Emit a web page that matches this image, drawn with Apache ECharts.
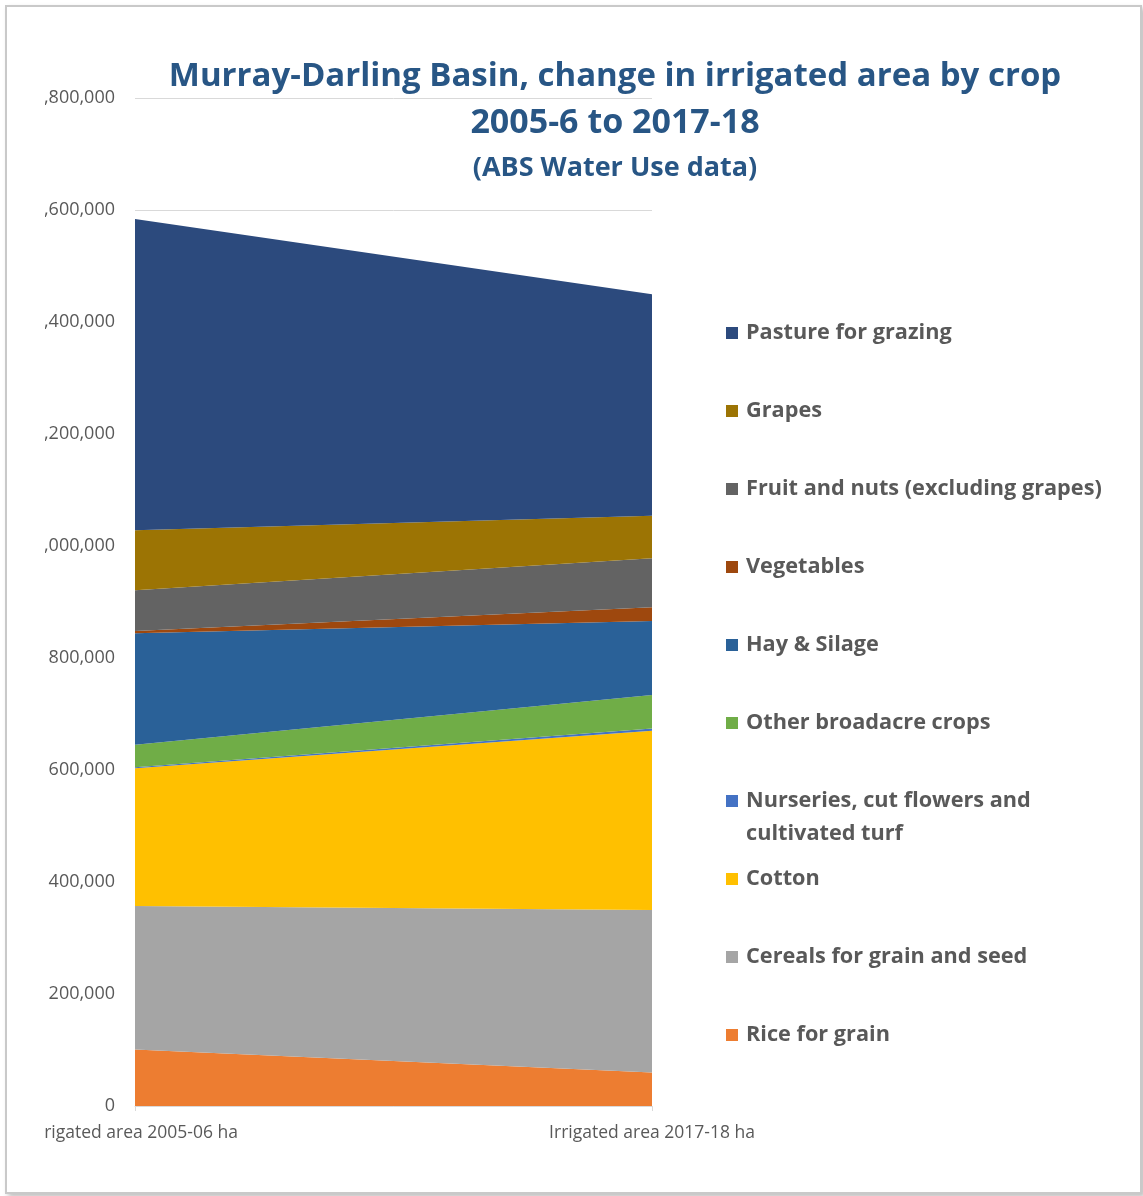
<!DOCTYPE html>
<html>
<head>
<meta charset="utf-8">
<script src="https://cdn.jsdelivr.net/npm/echarts@6/dist/echarts.min.js"></script>
<style>
  html, body { margin: 0; padding: 0; background: #fff; }
  #frame {
    position: absolute; left: 5px; top: 5px; width: 1133px; height: 1185px;
    border: 2px solid #c9c9c9; box-shadow: 3px 3px 5px rgba(0,0,0,0.25);
    background: #fff;
  }
  #chart { position: absolute; left: 45px; top: 0; width: 1093px; height: 1190px; }
</style>
</head>
<body>
<div id="frame"></div>
<div id="chart"></div>
<script>
// categories (x axis)
const categories = ['Irrigated area 2005-06 ha', 'Irrigated area 2017-18 ha'];

// irrigated area (ha)
const riceForGrain = [101000, 60000];
const cerealsForGrain = [256000, 290000];
const cotton = [246000, 320000];
const nurseries = [2000, 4000];
const otherBroadacre = [40000, 60000];
const haySilage = [199000, 132000];
const vegetables = [4000, 24500];
const fruitNuts = [73000, 87500];
const grapes = [107000, 76000];
const pasture = [556000, 395500];

// stacking order, bottom to top
const seriesDefs = [
  { name: 'Rice for grain', data: riceForGrain, color: '#ED7D31' },
  { name: 'Cereals for grain and seed', data: cerealsForGrain, color: '#A5A5A5' },
  { name: 'Cotton', data: cotton, color: '#FFC000' },
  { name: 'Nurseries, cut flowers and cultivated turf', data: nurseries, color: '#4472C4' },
  { name: 'Other broadacre crops', data: otherBroadacre, color: '#70AD47' },
  { name: 'Hay & Silage', data: haySilage, color: '#2A6198' },
  { name: 'Vegetables', data: vegetables, color: '#9E480E' },
  { name: 'Fruit and nuts (excluding grapes)', data: fruitNuts, color: '#636363' },
  { name: 'Grapes', data: grapes, color: '#9C7404' },
  { name: 'Pasture for grazing', data: pasture, color: '#2C4A7D' }
];

const FONT = '"Open Sans", Lato, sans-serif';
const LINE_H = 33;
const legendStartY = 333; // centre of first legend marker (page px)
const legendStep = 78;

// one legend per item so the two-line label keeps regular spacing
const legendOrder = seriesDefs.slice().reverse();
const legends = legendOrder.map((s, i) => {
  const twoLine = s.name.startsWith('Nurseries');
  const lines = twoLine ? 3 : 1;
  return {
    data: [s.name],
    orient: 'vertical',
    left: 681,
    top: legendStartY + i * legendStep - (lines * LINE_H) / 2,
    padding: 0,
    itemWidth: 12,
    itemHeight: 12,
    icon: 'rect',
    selectedMode: false,
    formatter: twoLine ? () => '\nNurseries, cut flowers and\ncultivated turf' : '{name}',
    textStyle: {
      fontFamily: FONT,
      fontSize: 21.7,
      fontWeight: 'bold',
      color: '#595959',
      lineHeight: LINE_H,
      padding: [0, 0, 0, 3]
    }
  };
});

const chart = echarts.init(document.getElementById('chart'), null, { renderer: 'canvas' });

chart.setOption({
  animation: false,
  backgroundColor: 'transparent',
  title: {
    left: 565,
    top: 48,
    textAlign: 'center',
    text: '{a|Murray-Darling Basin, change in irrigated area by crop}\n{c|2005-6 to 2017-18}\n{b|(ABS Water Use data)}',
    textStyle: {
      rich: {
        a: { fontFamily: FONT, fontSize: 33, fontWeight: 'bold', color: '#285685', lineHeight: 47, align: 'center' },
        c: { fontFamily: FONT, fontSize: 34, fontWeight: 'bold', color: '#285685', lineHeight: 47, align: 'center' },
        b: { fontFamily: FONT, fontSize: 27, fontWeight: 'bold', color: '#285685', lineHeight: 42, align: 'center' }
      }
    }
  },
  legend: legends,
  grid: { left: 90, top: 98, width: 517, height: 1008, outerBoundsMode: 'none', containLabel: false },
  xAxis: {
    type: 'category',
    data: categories,
    boundaryGap: false,
    axisLine: { lineStyle: { color: '#d9d9d9', width: 1 } },
    axisTick: { show: true, length: 5, lineStyle: { color: '#d9d9d9' } },
    axisLabel: { fontFamily: FONT, fontSize: 17.5, color: '#595959', margin: 18, hideOverlap: false }
  },
  yAxis: {
    type: 'value',
    min: 0,
    max: 1800000,
    interval: 200000,
    axisLine: { show: false },
    axisTick: { show: false },
    splitLine: { lineStyle: { color: '#d9d9d9', width: 1 } },
    axisLabel: {
      fontFamily: FONT,
      fontSize: 18,
      color: '#595959',
      margin: 20,
      formatter: v => v.toLocaleString('en-US')
    }
  },
  series: seriesDefs.map(s => ({
    name: s.name,
    type: 'line',
    stack: 'total',
    data: s.data,
    symbol: 'none',
    showSymbol: false,
    lineStyle: { width: 0 },
    itemStyle: { color: s.color },
    areaStyle: { color: s.color, opacity: 1 },
    emphasis: { disabled: true }
  }))
});
</script>
</body>
</html>
